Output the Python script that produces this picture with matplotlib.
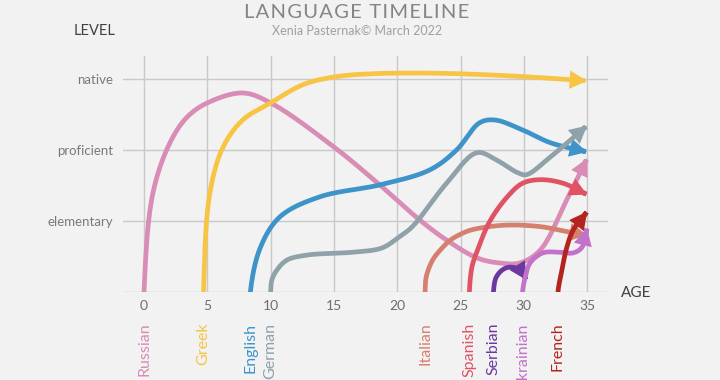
import numpy as np
import matplotlib
matplotlib.use("Agg")
import matplotlib.pyplot as plt
from matplotlib.patches import FancyArrowPatch
from matplotlib.path import Path

plt.rcParams["font.family"] = ["Lato", "DejaVu Sans"]

# levels and ages
level_labels = ["", "elementary", "proficient", "native"]
age_ticks = [0, 5, 10, 15, 20, 25, 30, 35]

languages = ["Russian", "Greek", "English", "German", "Italian",
             "Spanish", "Serbian", "Ukrainian", "French"]
colors = ["#d98cb5", "#f7c444", "#3e94c8", "#8fa2aa", "#d5806f",
          "#e05364", "#6a399f", "#c272c9", "#b4231d"]

russian_x = [0, 0.7, 2.05, 3.4, 5.0, 7.8, 10.0, 15.0, 18.6, 21.8, 23.9, 26.3, 28.0, 29.7, 31.3, 33.4, 35.0]
russian_y = [0, 1.39, 2.1, 2.46, 2.66, 2.80, 2.66, 2.04, 1.51, 1.01, 0.73, 0.48, 0.41, 0.41, 0.59, 1.30, 1.88]
greek_x = [4.7, 5.2, 6.25, 7.8, 10.0, 12.6, 15.2, 18.0, 21.8, 25.0, 30.0, 35.0]
greek_y = [0, 1.39, 2.04, 2.42, 2.66, 2.92, 3.03, 3.07, 3.08, 3.07, 3.03, 2.97]
english_x = [8.4, 9.2, 10.75, 13.9, 18.7, 22.6, 24.7, 26.5, 27.7, 29.9, 32.1, 35.0]
english_y = [0, 0.63, 1.06, 1.34, 1.51, 1.72, 2.0, 2.38, 2.42, 2.28, 2.10, 1.97]
german_x = [10.0, 10.1, 10.5, 11.3, 12.9, 16.5, 18.8, 20.2, 21.2, 23.9, 26.3, 27.9, 29.5, 30.2, 32.1, 35.0]
german_y = [0, 0.17, 0.31, 0.45, 0.52, 0.56, 0.62, 0.78, 0.92, 1.53, 1.96, 1.85, 1.68, 1.65, 1.90, 2.34]
italian_x = [22.2, 22.3, 22.8, 23.4, 24.2, 25.2, 26.0, 28.5, 31.3, 33.4, 35.0]
italian_y = [0, 0.22, 0.45, 0.59, 0.73, 0.83, 0.88, 0.94, 0.92, 0.85, 0.80]
spanish_x = [25.7, 25.9, 26.3, 27.3, 28.7, 29.9, 31.3, 33.1, 35.0]
spanish_y = [0, 0.35, 0.57, 0.99, 1.34, 1.53, 1.58, 1.53, 1.37]
serbian_x = [27.6, 27.8, 28.3, 28.9, 29.7, 30.2]
serbian_y = [0, 0.2, 0.31, 0.35, 0.31, 0.17]
ukrainian_x = [29.9, 30.1, 30.5, 31.5, 32.8, 33.9, 34.6, 35.0]
ukrainian_y = [0, 0.2, 0.41, 0.55, 0.56, 0.55, 0.63, 0.90]
french_x = [32.7, 33.0, 33.4, 33.9, 35.0]
french_y = [0, 0.3, 0.63, 0.87, 1.13]

series_x = [russian_x, greek_x, english_x, german_x, italian_x,
            spanish_x, serbian_x, ukrainian_x, french_x]
series_y = [russian_y, greek_y, english_y, german_y, italian_y,
            spanish_y, serbian_y, ukrainian_y, french_y]

BG = "#f2f2f2"
GRID = "#c9c9c9"
SX, SY = 12.66, 71.0  # rough px per unit, only for smoothing


def smooth(xs, ys, n=30):
    # centripetal catmull-rom through the read points, upright start
    p = np.column_stack([np.asarray(xs) * SX, np.asarray(ys) * SY])
    d = np.linalg.norm(p[1] - p[0])
    p = np.vstack([p[0] - [0, d], p, 2 * p[-1] - p[-2]])
    out = [p[1]]
    for i in range(1, len(p) - 2):
        p0, p1, p2, p3 = p[i - 1], p[i], p[i + 1], p[i + 2]
        t0 = 0.0
        t1 = t0 + np.linalg.norm(p1 - p0) ** 0.5 + 1e-9
        t2 = t1 + np.linalg.norm(p2 - p1) ** 0.5 + 1e-9
        t3 = t2 + np.linalg.norm(p3 - p2) ** 0.5 + 1e-9
        t = np.linspace(t1, t2, n)[1:][:, None]
        a1 = (t1 - t) / (t1 - t0) * p0 + (t - t0) / (t1 - t0) * p1
        a2 = (t2 - t) / (t2 - t1) * p1 + (t - t1) / (t2 - t1) * p2
        a3 = (t3 - t) / (t3 - t2) * p2 + (t - t2) / (t3 - t2) * p3
        b1 = (t2 - t) / (t2 - t0) * a1 + (t - t0) / (t2 - t0) * a2
        b2 = (t3 - t) / (t3 - t1) * a2 + (t - t1) / (t3 - t1) * a3
        c = (t2 - t) / (t2 - t1) * b1 + (t - t1) / (t2 - t1) * b2
        out.extend(c)
    out = np.array(out)
    return out[:, 0] / SX, out[:, 1] / SY


fig = plt.figure(figsize=(7.2, 3.8), dpi=100, facecolor=BG)
ax = fig.add_axes([123 / 720, 88 / 380, 485 / 720, 236 / 380], facecolor=BG)
ax.set_xlim(-1.66, 36.65)
ax.set_ylim(0, 3.32)

ax.set_xticks(age_ticks)
ax.set_yticks(range(len(level_labels)))
ax.set_yticklabels(level_labels)
ax.tick_params(length=0, colors="#7a7a7a", labelsize=9.5)
ax.tick_params(axis="x", pad=6, labelsize=10, colors="#6e6e6e")
ax.tick_params(axis="y", pad=7)
ax.grid(True, color=GRID, lw=1)
ax.set_axisbelow(True)
for s in ax.spines.values():
    s.set_visible(False)

for xs, ys, col in zip(series_x, series_y, colors):
    sx, sy = smooth(xs, ys)
    path = Path(np.column_stack([sx, sy]))
    arr = FancyArrowPatch(path=path, arrowstyle="-|>,head_length=0.8,head_width=0.42",
                          mutation_scale=9, lw=3.4, color=col,
                          capstyle="round", joinstyle="miter",
                          transform=ax.transData, zorder=3)
    ax.add_patch(arr)

# language names under the axis
for name, xs, col in zip(languages, series_x, colors):
    ax.annotate(name, xy=(xs[0], 0), xycoords="data",
                xytext=(0, -22), textcoords="offset points",
                rotation=90, ha="center", va="top", color=col,
                fontsize=11.5, annotation_clip=False)

title = "\u200a".join("LANGUAGE TIMELINE")
fig.text(0.496, 0.968, title, ha="center", va="center",
         fontsize=14.5, color="#858585")
fig.text(0.496, 0.918, "Xenia Pasternak\u00a9 March 2022", ha="center",
         va="center", fontsize=9, color="#a0a0a0")
fig.text(0.16, 0.918, "LEVEL", ha="right", va="center", fontsize=10.5,
         color="#404040")
fig.text(0.862, 0.228, "AGE", ha="left", va="center", fontsize=11,
         color="#404040")

fig.savefig("out.png", dpi=100, facecolor=BG)
